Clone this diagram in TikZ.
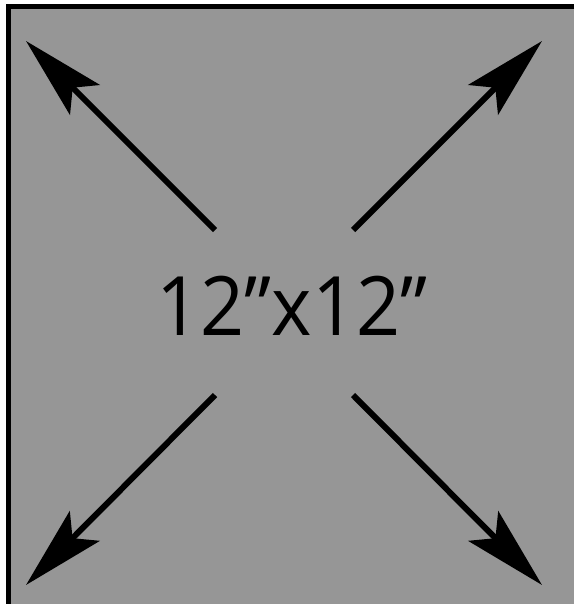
\documentclass[tikz,border=0pt]{standalone}
\usepackage{fontspec}
\setmainfont{Open Sans}
\usetikzlibrary{arrows.meta}
\definecolor{panelgray}{RGB}{150,150,150}

\begin{document}
\begin{tikzpicture}[x=1pt,y=-1pt,>={Stealth[length=83pt,width=42pt,inset=17pt]}]
\tikzstyle{arr}=[->,line width=6pt]
\useasboundingbox (0,0) rectangle (574,604);
\fill[panelgray] (6,4) rectangle (574,604);
\draw[line width=5pt] (574,6.5) -| (8.5,604);
\node[font=\fontsize{82}{90}\selectfont,inner sep=0pt] (lbl) at (292,306) {\scalebox{0.94}[1]{12”x12”}};
% arrows from the middle to the corners
\coordinate (tl) at (26,41); \coordinate (tr) at (542,41);
\coordinate (bl) at (26,585); \coordinate (br) at (542,585);
\coordinate (tl0) at (215,230); \coordinate (tr0) at (353,230);
\coordinate (bl0) at (215,395); \coordinate (br0) at (353,395);
\draw[arr] (tl0) -- (tl);
\draw[arr] (tr0) -- (tr);
\draw[arr] (bl0) -- (bl);
\draw[arr] (br0) -- (br);
\end{tikzpicture}
\end{document}
